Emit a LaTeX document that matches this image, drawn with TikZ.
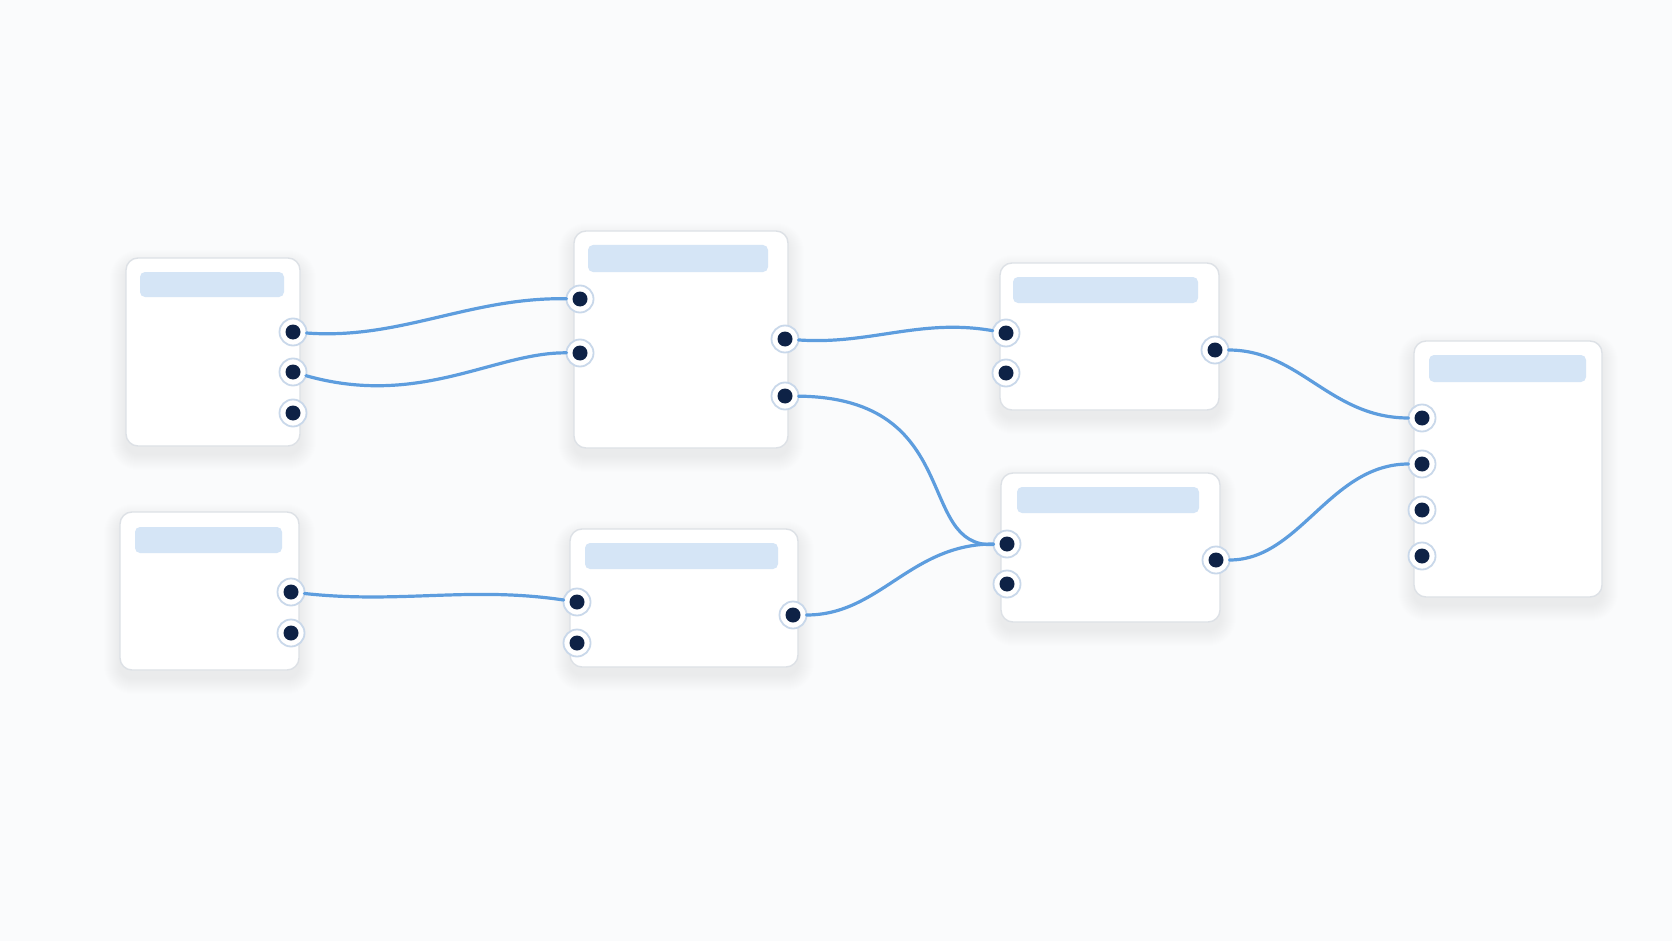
\documentclass[tikz,border=0pt]{standalone}
\usetikzlibrary{calc}
\definecolor{bgc}{HTML}{FAFBFC}
\definecolor{cardline}{HTML}{DDE1E6}
\definecolor{hdrc}{HTML}{D5E5F6}
\definecolor{wirec}{HTML}{5D9DDE}
\definecolor{portdark}{HTML}{0E2246}
\definecolor{ringc}{HTML}{C9D8EA}
\pgfdeclarelayer{bgl}
\pgfdeclarelayer{shadowl}
\pgfsetlayers{bgl,shadowl,main}
\tikzset{
  card/.style={rectangle, rounded corners=12pt, fill=white, draw=cardline, line width=1.4pt, inner sep=0pt, outer sep=0pt},
  hdr/.style={rectangle, rounded corners=5pt, fill=hdrc, inner sep=0pt, outer sep=0pt},
  port/.style={circle, minimum size=27pt, inner sep=0pt, outer sep=0pt, fill=white, draw=ringc, line width=1.8pt,
    path picture={\fill[portdark] (path picture bounding box.center) circle (7.5pt);}},
  wire/.style={draw=wirec, line width=3.2pt, line cap=round}
}
\newcommand\mkcard[9]{%
  \begin{pgfonlayer}{shadowl}
    \foreach \k in {1,...,16} {
      \fill[black, opacity=0.0045, rounded corners={12pt+\k pt}] ({#2-\k},{#3-\k+8}) rectangle ({#4+\k},{#5+\k+8});
    }
  \end{pgfonlayer}
  \node[card, minimum width={#4-#2}, minimum height={#5-#3}] (#1) at ({(#2+#4)/2},{(#3+#5)/2}) {};
  \node[hdr, minimum width={#8-#6}, minimum height={#9-#7}] (#1h) at ({(#6+#8)/2},{(#7+#9)/2}) {};
}
\begin{document}
\begin{tikzpicture}[x=1pt,y=-1pt]
\useasboundingbox (0,0) rectangle (1672,941);
\begin{pgfonlayer}{bgl}
  \fill[bgc] (0,0) rectangle (1672,941);
\end{pgfonlayer}

% cards
\mkcard{A}{126}{258}{300}{446}{140}{272}{284}{297}
\mkcard{B}{574}{231}{788}{448}{588}{245}{768}{272}
\mkcard{C}{1000}{263}{1219}{410}{1013}{277}{1198}{303}
\mkcard{D}{1001}{473}{1220}{622}{1017}{487}{1199}{513}
\mkcard{E}{1414}{341}{1602}{597}{1429}{355}{1586}{382}
\mkcard{F}{120}{512}{299}{670}{135}{527}{282}{553}
\mkcard{G}{570}{529}{798}{667}{585}{543}{778}{569}

% ports
\node[port] (A1) at (293,332) {};
\node[port] (A2) at (293,372) {};
\node[port] (A3) at (293,413) {};
\node[port] (B1) at (580,299) {};
\node[port] (B2) at (580,353) {};
\node[port] (B3) at (785,339) {};
\node[port] (B4) at (785,396) {};
\node[port] (C1) at (1006,333) {};
\node[port] (C2) at (1006,373) {};
\node[port] (C3) at (1215,350) {};
\node[port] (D1) at (1007,544) {};
\node[port] (D2) at (1007,584) {};
\node[port] (D3) at (1216,560) {};
\node[port] (E1) at (1422,418) {};
\node[port] (E2) at (1422,464) {};
\node[port] (E3) at (1422,510) {};
\node[port] (E4) at (1422,556) {};
\node[port] (F1) at (291,592) {};
\node[port] (F2) at (291,633) {};
\node[port] (G1) at (577,602) {};
\node[port] (G2) at (577,643) {};
\node[port] (G3) at (793,615) {};

% wires
\draw[wire] (A1) .. controls (400,340) and (470,297) .. (B1);
\draw[wire] (A2) .. controls (420,408) and (495,352) .. (B2);
\draw[wire] (B3) .. controls (870,345) and (920,318) .. (C1);
\draw[wire] (B4) .. controls (965,398) and (915,548) .. (D1);
\draw[wire] (C3) .. controls (1300,350) and (1330,418) .. (E1);
\draw[wire] (D3) .. controls (1300,560) and (1330,464) .. (E2);
\draw[wire] (F1) .. controls (400,604) and (470,586) .. (G1);
\draw[wire] (G3) .. controls (880,615) and (910,544) .. (D1);
\end{tikzpicture}
\end{document}
